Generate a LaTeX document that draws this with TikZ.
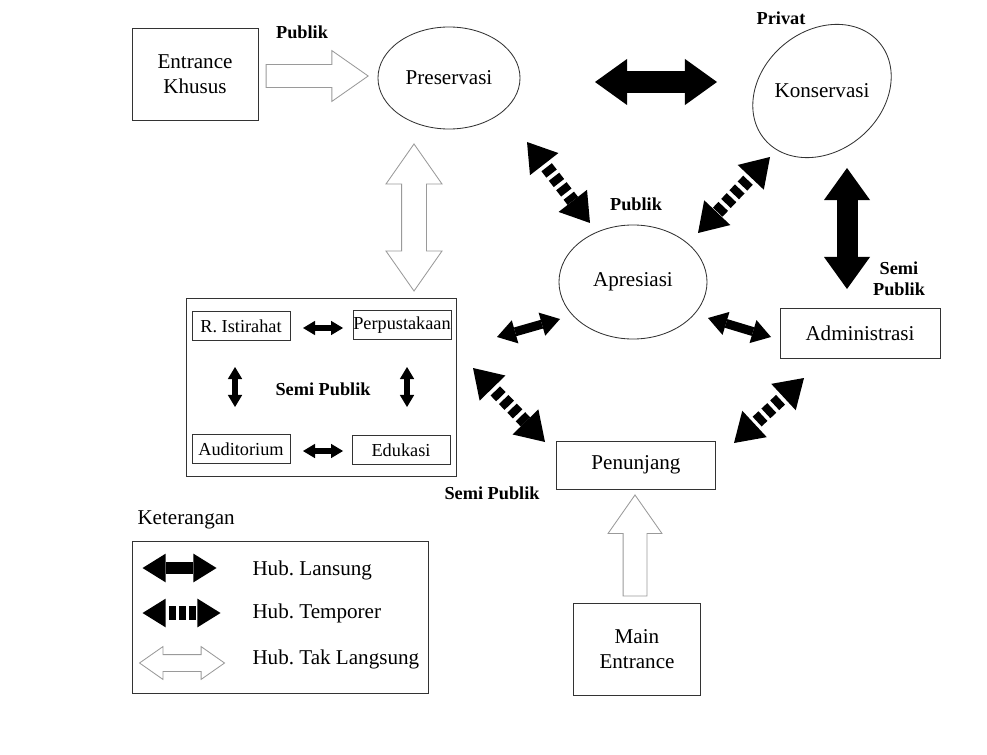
\documentclass[tikz,border=0pt]{standalone}
\usepackage{fontspec}
\setmainfont{Liberation Serif}
\usetikzlibrary{shapes.geometric,shapes.arrows,arrows.meta,positioning,calc}
\definecolor{lineGray}{HTML}{333333}
\definecolor{hollowGray}{HTML}{9A9A9A}
\frenchspacing

\begin{document}
\begin{tikzpicture}[
    x=0.025cm, y=-0.025cm,
    lbl/.style={font=\fontsize{15}{18}\selectfont, align=center},
    room/.style={rectangle, draw=lineGray, line width=0.6pt, align=center,
                 inner sep=0pt, font=\fontsize{15}{18}\selectfont},
    subroom/.style={rectangle, draw=lineGray, line width=0.5pt, minimum width=2.45cm,
                    minimum height=0.72cm, inner sep=0pt, font=\fontsize{13}{15}\selectfont},
    bubble/.style={ellipse, draw=lineGray, line width=0.6pt, inner sep=0pt,
                   font=\fontsize{15}{18}\selectfont},
    zone/.style={font=\bfseries\fontsize{13}{15}\selectfont, align=center},
    bigtip/.tip={Triangle[width=1.15cm, length=0.8cm, line width=0pt]},
    midtip/.tip={Triangle[width=0.6cm, length=0.47cm, line width=0pt]},
    smalltip/.tip={Triangle[width=0.36cm, length=0.3cm, line width=0pt]},
    dashtip/.tip={Triangle[width=0.9cm, length=0.7cm, line width=0pt]},
    legtip/.tip={Triangle[width=0.72cm, length=0.58cm, line width=0pt]},
    bigarr/.style={line width=0.525cm, bigtip-bigtip},
    midarr/.style={line width=0.225cm, midtip-midtip},
    smallarr/.style={line width=0.13cm, smalltip-smalltip},
    dasharr/.style={line width=0.33cm, dash pattern=on 0.2cm off 0.1cm,
                    dash phase=0.2cm, dashtip-dashtip},
    legsolid/.style={line width=0.3cm, legtip-legtip},
    legdash/.style={line width=0.33cm, dash pattern=on 0.17cm off 0.08cm,
                    dash phase=0.17cm, legtip-legtip},
    hollow/.style={draw=hollowGray, fill=white, line width=0.6pt, inner xsep=0pt, outer sep=0pt},
    oneway/.style={hollow, single arrow, single arrow tip angle=70, single arrow head extend=#1},
    twoway/.style={hollow, double arrow, double arrow tip angle=70, double arrow head extend=#1},
]
    \useasboundingbox (0,0) rectangle (987,755);

    % rooms
    \node[room, minimum width=3.15cm, minimum height=2.3cm] (ent) at (195,74) {Entrance\\Khusus};
    \node[bubble, minimum width=3.55cm, minimum height=2.55cm] (pres) at (449,78) {Preservasi};
    \node[bubble, minimum width=3.75cm, minimum height=3cm, rotate=40] (kons) at (822,91) {};
    \node[lbl] (kons-t) at (kons.center) {Konservasi};
    \node[bubble, minimum width=3.7cm, minimum height=2.85cm] (apr) at (633,282) {Apresiasi};
    \node[room, minimum width=4cm, minimum height=1.25cm] (adm) at (860,333) {Administrasi};
    \node[room, minimum width=6.75cm, minimum height=4.45cm] (grp) at (321,387) {};
    \node[subroom] (ist) at (241,326) {R. Istirahat};
    \node[subroom] (pus) at (402,325) {Perpustakaan};
    \node[subroom] (aud) at (241,449) {Auditorium};
    \node[subroom] (edu) at (401,450) {Edukasi};
    \node[room, minimum width=3.975cm, minimum height=1.2cm] (pen) at (636,465) {Penunjang};
    \node[room, minimum width=3.175cm, minimum height=2.3cm] (main) at (637,649) {Main\\Entrance};

    % zones
    \node[zone] (z-ent) at (302,32) {Publik};
    \node[zone] (z-kons) at (781,18) {Privat};
    \node[zone] (z-apr) at (636,204) {Publik};
    \node[zone] (z-adm) at (899,279) {Semi\\Publik};
    \node[zone] (z-pen) at (492,493) {Semi Publik};
    \node[zone] (z-grp) at (323,389) {Semi Publik};

    % hollow links
    \path ($(ent.east)+(-9,2)$) -- ($(ent.east -| pres.west)+(-9,2)$)
        node[midway, oneway=0.35cm, inner ysep=0.275cm, minimum width=1.25cm,
             minimum height=2.55cm] (in-ent) {};
    \path ($(pres.south)+(-35,15)$) -- ($(grp.north)+(93,-7)$)
        node[midway, twoway=0.39cm, inner ysep=0.3cm, rotate=90, minimum width=1.375cm,
             minimum height=3.675cm] (in-grp) {};
    \path ($(main.north)+(-2,8)$) -- ($(main.north |- pen.south)+(-2,8)$)
        node[midway, oneway=0.375cm, inner ysep=0.2875cm, rotate=90, minimum width=1.325cm,
             minimum height=2.525cm] (in-main) {};

    % direct and temporary links
    \draw[bigarr] ($(pres)+(146,4)$) -- ($(kons)+(-105,-9)$);
    \draw[bigarr] ($(kons)+(25,77)$) -- ($(adm)+(-13,-44)$);
    \draw[dasharr] ($(pres)+(78,64)$) -- ($(apr)+(-43,-59)$);
    \draw[dasharr] ($(kons)+(-52,66)$) -- ($(apr)+(65,-49)$);
    \draw[midarr] ($(apr)+(75,36)$) -- ($(adm)+(-89,4)$);
    \draw[midarr] ($(apr)+(-73,37)$) -- ($(grp)+(176,-50)$);
    \draw[dasharr] ($(grp)+(152,-19)$) -- ($(pen)+(-91,-23)$);
    \draw[dasharr] ($(adm)+(-56,45)$) -- ($(pen)+(98,-22)$);
    \draw[smallarr] ($(ist)+(62,2)$) -- ($(pus)+(-59,3)$);
    \draw[smallarr] ($(aud)+(62,2)$) -- ($(edu)+(-58,1)$);
    \draw[smallarr] ($(ist)+(-6,41)$) -- ($(aud)+(-6,-42)$);
    \draw[smallarr] ($(pus)+(5,42)$) -- ($(edu)+(6,-43)$);

    % legend
    \node[room, minimum width=7.4cm, minimum height=3.8cm] (leg) at (280,617) {};
    \node[lbl, anchor=west] (ket) at ($(leg.north west)+(1,-21)$) {Keterangan};
    \draw[legsolid] ($(leg.west)+(11,-49)$) coordinate (ls) -- ++(74,0);
    \draw[legdash] ($(leg.west)+(11,-4)$) coordinate (ld) -- ++(78,0);
    \path ($(leg.west)+(8,46)$) coordinate (lh) -- ++(85,0)
        node[midway, twoway=0.2cm, inner ysep=0.2cm, minimum width=0.8cm,
             minimum height=2.125cm] (leg-h) {};
    \node[lbl, anchor=west] (t-lan) at ($(leg.west)+(116,-47)$) {Hub. Lansung};
    \node[lbl, anchor=west] (t-tem) at ($(leg.west)+(116,-4)$) {Hub. Temporer};
    \node[lbl, anchor=west] (t-tak) at ($(leg.west)+(116,42)$) {Hub. Tak Langsung};
\end{tikzpicture}
\end{document}
